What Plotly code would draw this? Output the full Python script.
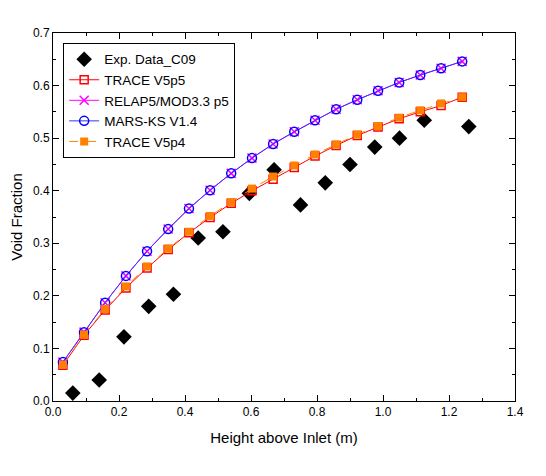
import plotly.graph_objects as go

# Data
exp_x = [0.06, 0.14, 0.215, 0.29, 0.365, 0.44, 0.515, 0.595, 0.67, 0.75, 0.825, 0.90, 0.975, 1.05, 1.125, 1.26]
exp_y = [0.015, 0.040, 0.122, 0.180, 0.203, 0.310, 0.322, 0.395, 0.440, 0.373, 0.415, 0.450, 0.483, 0.500, 0.534, 0.522]

sim_x = [0.03, 0.094, 0.158, 0.221, 0.285, 0.349, 0.412, 0.476, 0.540, 0.603, 0.667, 0.731, 0.794, 0.858, 0.922, 0.985, 1.049, 1.113, 1.176, 1.240]

trace_v5p5 = [0.068, 0.125, 0.173, 0.215, 0.253, 0.288, 0.320, 0.349, 0.376, 0.400, 0.422, 0.444, 0.466, 0.486, 0.505, 0.521, 0.537, 0.550, 0.562, 0.578]
relap5 = [0.074, 0.131, 0.187, 0.238, 0.285, 0.327, 0.366, 0.401, 0.433, 0.462, 0.489, 0.512, 0.534, 0.555, 0.573, 0.590, 0.606, 0.620, 0.633, 0.646]
mars_ks = [0.074, 0.131, 0.187, 0.238, 0.285, 0.327, 0.366, 0.401, 0.433, 0.462, 0.489, 0.512, 0.534, 0.555, 0.573, 0.590, 0.606, 0.620, 0.633, 0.646]
trace_v5p4 = [0.069, 0.126, 0.175, 0.218, 0.256, 0.290, 0.322, 0.352, 0.378, 0.404, 0.427, 0.448, 0.469, 0.488, 0.507, 0.523, 0.539, 0.553, 0.566, 0.578]

FONT = "Liberation Sans, Arial"

fig = go.Figure()
fig.add_trace(go.Scatter(x=exp_x, y=exp_y, mode="markers", name="Exp. Data_C09",
                         marker=dict(symbol="diamond", size=12, color="black")))
fig.add_trace(go.Scatter(x=sim_x, y=trace_v5p5, mode="lines+markers", name="TRACE V5p5",
                         line=dict(color="red", width=1),
                         marker=dict(symbol="square-open", size=8, color="red", line=dict(width=1.5))))
fig.add_trace(go.Scatter(x=sim_x, y=relap5, mode="lines+markers", name="RELAP5/MOD3.3 p5",
                         line=dict(color="#ff00ff", width=1),
                         marker=dict(symbol="x-thin-open", size=9, color="#ff00ff", line=dict(width=1.5, color="#ff00ff"))))
fig.add_trace(go.Scatter(x=sim_x, y=mars_ks, mode="lines+markers", name="MARS-KS V1.4",
                         line=dict(color="#3333ff", width=1),
                         marker=dict(symbol="circle-open", size=9, color="blue", line=dict(width=1.5))))
fig.add_trace(go.Scatter(x=sim_x, y=trace_v5p4, mode="lines+markers", name="TRACE V5p4",
                         line=dict(color="#ff8000", width=1, dash="dash"),
                         marker=dict(symbol="square", size=8, color="#ff8000")))

axis_common = dict(showline=True, linecolor="black", linewidth=1, mirror="ticks",
                   ticks="inside", ticklen=6, tickcolor="black", showgrid=False, zeroline=False,
                   tickfont=dict(family=FONT, size=12, color="black"),
                   tickformat=".1f", automargin=False)
fig.update_xaxes(range=[0, 1.4], dtick=0.2,
                 minor=dict(ticks="inside", ticklen=3, dtick=0.1, tickcolor="black"),
                 title=dict(text="Height above Inlet (m)", font=dict(family=FONT, size=15, color="black"), standoff=14),
                 **axis_common)
fig.update_yaxes(range=[0, 0.7], dtick=0.1,
                 minor=dict(ticks="inside", ticklen=3, dtick=0.05, tickcolor="black"),
                 title=dict(text="Void Fraction", font=dict(family=FONT, size=15, color="black"), standoff=10),
                 **axis_common)

# page body has an 8px default margin, so the figure is shrunk/shifted to compensate
fig.update_layout(
    width=538, height=468,
    margin=dict(l=45, r=31, t=25, b=75),
    paper_bgcolor="white", plot_bgcolor="white",
    showlegend=True,
    legend=dict(x=0.022, y=0.973, xanchor="left", yanchor="top",
                bordercolor="black", borderwidth=1, bgcolor="white",
                font=dict(family=FONT, size=13.5, color="black"),
                tracegroupgap=0, itemwidth=30),
)

fig.write_html("out.html")
